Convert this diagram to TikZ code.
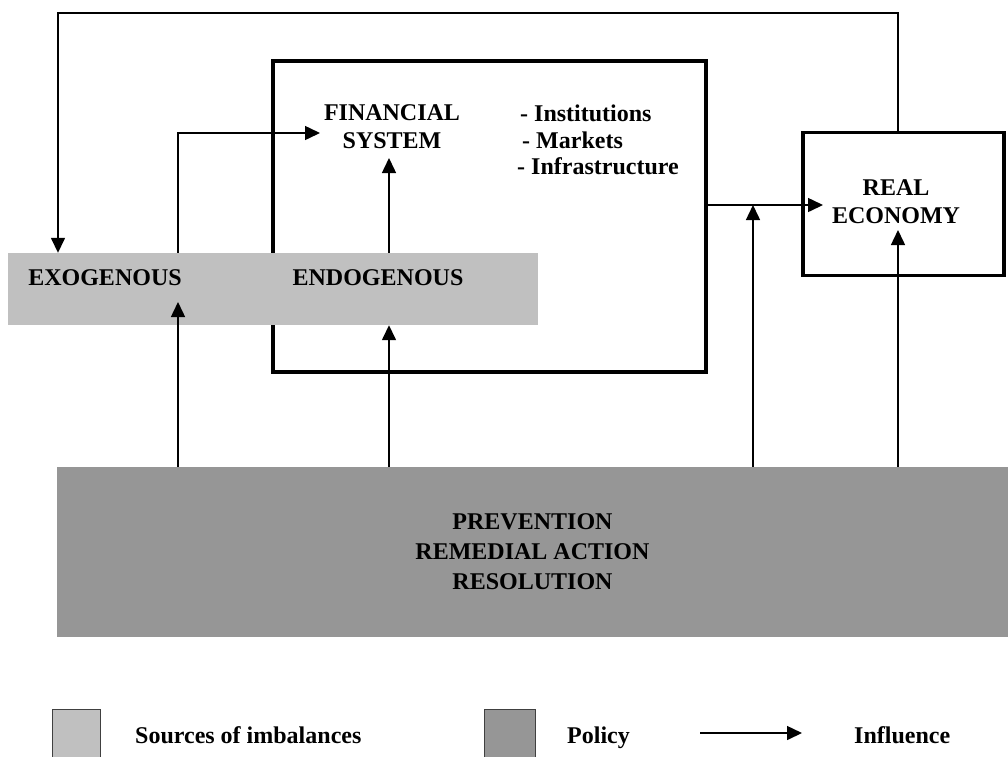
\documentclass[tikz,border=0pt]{standalone}
\usepackage{fontspec}
\setmainfont{Liberation Serif}
\usetikzlibrary{arrows.meta}

\definecolor{srcgray}{RGB}{192,192,192}
\definecolor{polgray}{RGB}{150,150,150}

\begin{document}
\begin{tikzpicture}[x=1pt, y=-1pt,
  every node/.style={font=\bfseries\fontsize{24}{28}\selectfont, inner sep=0pt},
  bigbox/.style={draw, line width=3.5pt},
  link/.style={line width=1.5pt, -{Triangle[length=15pt,width=14pt]}},
  swatch/.style={draw=black!75, line width=1pt, minimum width=48pt, minimum height=52pt}]

\useasboundingbox (0,0) rectangle (1008,756);

% boxes
\node[bigbox, minimum width=433pt, minimum height=311pt] (finbox) at (489.5,216.5) {};
\node[bigbox, minimum width=201pt, minimum height=143pt] (realbox) at (903.5,204) {};
\node[fill=srcgray, minimum width=530pt, minimum height=72pt] (band) at (273,289) {};
\node[fill=polgray, minimum width=951pt, minimum height=170pt, align=center,
      font=\bfseries\fontsize{24}{30}\selectfont] (policy) at (532.5,552)
      {PREVENTION\\REMEDIAL ACTION\\RESOLUTION};

% texts
\node[align=center] (fin) at (392,127) {FINANCIAL\\SYSTEM};
\node[anchor=base west] (inst) at (520,121) {- Institutions};
\node[anchor=base west] (mkt) at (522,148) {- Markets};
\node[anchor=base west] (infra) at (517,174) {- Infrastructure};
\node[align=center] (real) at (896,202) {REAL\\ECONOMY};
\node (exo) at (105,278) {EXOGENOUS};
\node (endo) at (378,278) {ENDOGENOUS};

% arrow ends
\coordinate (finin) at (320,133);
\coordinate (finup) at (389,158);
\coordinate (exoin) at (178,302);
\coordinate (realin) at (823,205);
\coordinate (join) at (753,205);
\coordinate (realup) at (898,230);
\coordinate (loop) at (58,13);

% connectors
\draw[link] (band.north -| exoin) |- (finin);
\draw[link] (band.north -| finup) -- (finup);
\draw[link] (finbox.east |- realin) -- (realin);
\draw[link] (realbox.north -| realup) |- (loop) -- (band.north -| loop);
\draw[link] (policy.north -| exoin) -- (exoin);
\draw[link] (policy.north -| finup) -- (band.south -| finup);
\draw[link] (policy.north -| join) -- (join);
\draw[link] (policy.north -| realup) -- (realup);

% key
\node[swatch, fill=srcgray] (srckey) at (76,735) {};
\node[anchor=base west] (srctxt) at (135,743) {Sources of imbalances};
\node[swatch, fill=polgray, minimum width=51pt] (polkey) at (509.5,735) {};
\node[anchor=base west] (poltxt) at (567,743) {Policy};
\coordinate (keya) at (700,733);
\coordinate (keyb) at (802,733);
\draw[link] (keya) -- (keyb);
\node[anchor=base west] (inftxt) at (854,743) {Influence};

\end{tikzpicture}
\end{document}
